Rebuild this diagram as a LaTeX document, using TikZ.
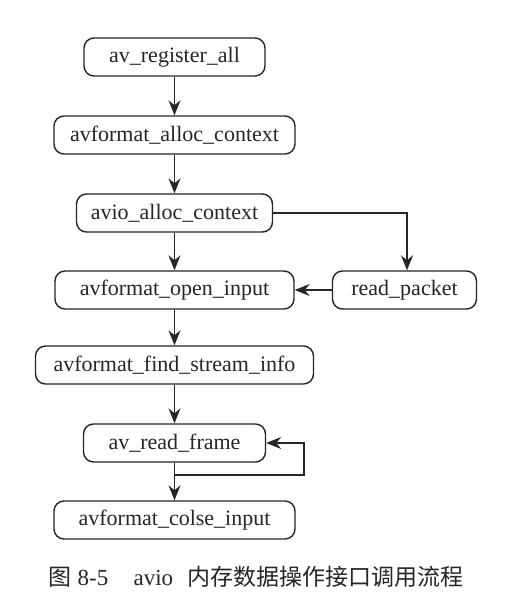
\documentclass[tikz,border=0pt]{standalone}
\usepackage{fontspec}
\setmainfont{Liberation Serif}
\newfontfamily\cjk{Noto Sans CJK SC}
\usetikzlibrary{arrows.meta}
\definecolor{ink}{HTML}{262626}
\tikzset{
    func/.style={draw=ink, text=ink, line width=1.4pt, rounded corners=10pt,
        minimum height=38pt, inner sep=0pt, font=\fontsize{22}{24}\selectfont},
    flow/.style={draw=ink, line width=1.4pt, -{Stealth[length=15pt, width=12pt, inset=5pt]}}
}
\begin{document}
\begin{tikzpicture}[x=1pt, y=-1pt]
    \useasboundingbox[fill=white] (0,0) rectangle (527,612);
    % main column
    \foreach \name/\txt/\y/\w in {reg/av\_register\_all/57/181,
            alloc/avformat\_alloc\_context/135/241,
            avio/avio\_alloc\_context/213/196,
            open/avformat\_open\_input/290/239,
            find/avformat\_find\_stream\_info/365/278,
            frame/av\_read\_frame/443/182,
            colse/avformat\_colse\_input/520/241} {
        \node[func, minimum width=\w pt] (\name) at (174.5, \y) {\txt};
    };
    \node[func, minimum width=144pt] (packet) at (404.5, 290) {read\_packet};
    \foreach \a/\b in {reg/alloc, alloc/avio, avio/open, open/find, find/frame, frame/colse} {
        \draw[flow] (\a.south) -- (\b.north);
    };
    \draw[flow] (avio.east) -| ([xshift=2.5pt]packet.north);
    \draw[flow] (packet.west) -- (open.east);
    \coordinate (loop) at (304, 475);
    \draw[flow] (frame.south) |- (loop) |- (frame.east);
    \node[text=ink, font=\fontsize{23}{25}\selectfont] (caption) at (256, 577)
        {{\cjk 图} 8-5\hspace{1.1em}avio\hspace{0.6em}{\cjk 内存数据操作接口调用流程}};
\end{tikzpicture}
\end{document}
